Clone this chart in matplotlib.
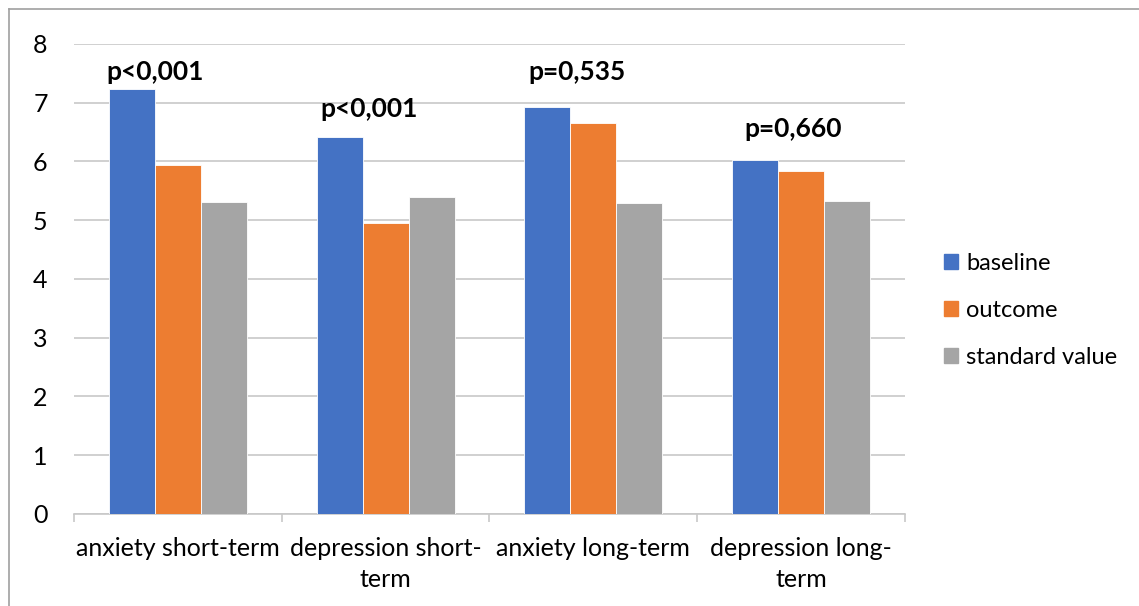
import matplotlib as mpl
import matplotlib.pyplot as plt
from matplotlib.lines import Line2D
from matplotlib.patches import Patch
import numpy as np

mpl.rcParams['font.family'] = ['Lato', 'DejaVu Sans']

# data
categories = ['anxiety short-term', 'depression short-\nterm', 'anxiety long-term', 'depression long-\nterm']
series = ['baseline', 'outcome', 'standard value']
baseline = [7.23, 6.42, 6.92, 6.02]
outcome = [5.94, 4.96, 6.66, 5.83]
standard = [5.31, 5.40, 5.29, 5.32]
p_labels = ['p<0,001', 'p<0,001', 'p=0,535', 'p=0,660']
p_heights = [7.52, 6.90, 7.52, 6.56]
p_xoff = [-0.11, -0.08, -0.08, -0.04]
colors = ['#4472C4', '#ED7D31', '#A5A5A5']

fig = plt.figure(figsize=(11.39, 6.06), dpi=100)
ax = fig.add_axes([0.065, 0.152, 0.7295, 0.7755])

x = np.arange(len(categories))
w = 0.2215
for k, vals in enumerate([baseline, outcome, standard]):
    ax.bar(x + (k - 1) * w, vals, w, color=colors[k], edgecolor='white', linewidth=0.6, zorder=3, label=series[k])

for i, lab in enumerate(p_labels):
    ax.text(i + p_xoff[i], p_heights[i], lab, ha='center', va='center', fontsize=19, fontweight='bold', color='black')

ax.set_xlim(-0.5, len(categories) - 0.5)
ax.set_ylim(0, 8)
ax.set_yticks(range(0, 9))
ax.grid(axis='y', color='#c8c8c8', linewidth=1.2, zorder=0)
for s in ['top', 'right', 'left']:
    ax.spines[s].set_visible(False)
ax.spines['bottom'].set_color('#c8c8c8')
ax.spines['bottom'].set_linewidth(1.2)
ax.tick_params(axis='y', length=0, pad=19, labelsize=18)
ax.set_xticks(x)
ax.set_xticklabels(categories, fontsize=18, linespacing=1.4)
ax.tick_params(axis='x', length=0, pad=17)
# category boundary ticks
ax.set_xticks(np.arange(-0.5, len(categories)), minor=True)
ax.tick_params(axis='x', which='minor', length=6, color='#c8c8c8', width=1.2)

handles = [Patch(color=c) for c in colors]
leg = fig.legend(handles, series, loc='center left', bbox_to_anchor=(0.8288, 0.488), frameon=False,
                 borderaxespad=0, borderpad=0,
                 fontsize=17, handlelength=0.6, handleheight=0.6, handletextpad=0.35, labelspacing=1.1)

# chart border
fig.add_artist(Line2D([9 / 1139, 9 / 1139], [0, 1 - 9 / 606], color='#a0a0a0', linewidth=1.2, transform=fig.transFigure))
fig.add_artist(Line2D([9 / 1139, 1], [1 - 9 / 606, 1 - 9 / 606], color='#a0a0a0', linewidth=1.2, transform=fig.transFigure))

plt.savefig('out.png', dpi=100)
